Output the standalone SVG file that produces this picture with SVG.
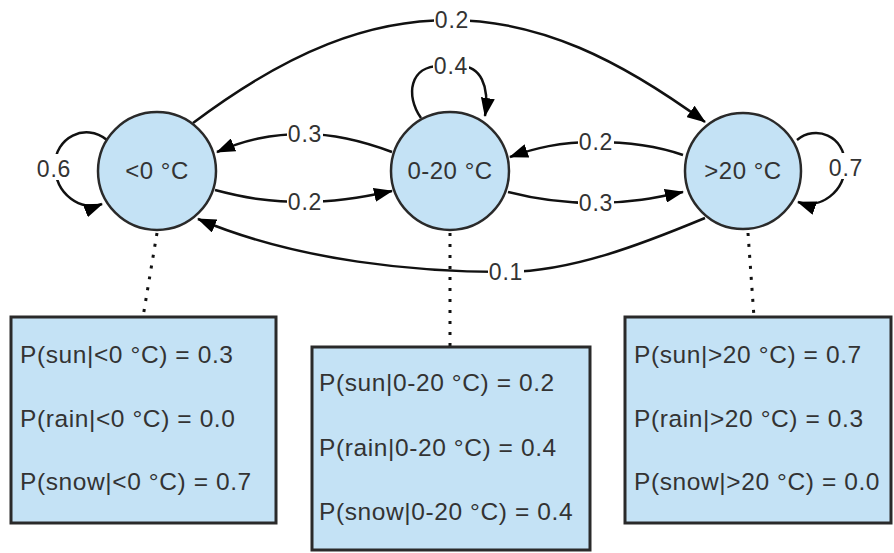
<svg xmlns="http://www.w3.org/2000/svg" width="894" height="553" viewBox="0 0 894 553">
<style>
.node circle{fill:#c4e2f5;stroke:#2a2a2a;stroke-width:2.5}
.box rect{fill:#c4e2f5;stroke:#2a2a2a;stroke-width:3}
.nt{font-family:"Liberation Sans",Arial,sans-serif;font-size:24px;fill:#333;text-anchor:middle;letter-spacing:0.5px}
.bt{font-family:"Liberation Sans",Arial,sans-serif;font-size:24.5px;fill:#333;letter-spacing:0.6px}
.edge{fill:none;stroke:#111;stroke-width:2.5}
.dot{fill:none;stroke:#111;stroke-width:3;stroke-dasharray:3 8}
.lb{fill:#fff}
.lbl{font-family:"Liberation Sans",Arial,sans-serif;font-size:23px;fill:#333;text-anchor:middle;letter-spacing:0.8px}
</style>
<defs>
<marker id="ah" markerUnits="userSpaceOnUse" markerWidth="19" markerHeight="14" refX="18" refY="7" orient="auto">
<path d="M0,0 L19,7 L0,14 z" fill="#000"/>
</marker>
</defs>
<rect width="894" height="553" fill="#fff"/>
<g id="connectors">
<path class="dot" d="M157,233 L143,317"/>
<path class="dot" d="M450,233 L450,347"/>
<path class="dot" d="M748,233 L754,317"/>
<path class="edge" marker-end="url(#ah)" d="M193,123 C290,50 370,20 450,20 C540,20 620,60 705,122"/>
<path class="edge" marker-end="url(#ah)" d="M392,152 C360,140 330,134 305,134 C270,134 245,140 217,152"/>
<path class="edge" marker-end="url(#ah)" d="M215,190 C245,198 270,202 305,202 C335,202 360,198 392,191"/>
<path class="edge" marker-end="url(#ah)" d="M683,155 C660,147 630,142 595,142 C560,142 535,148 510,157"/>
<path class="edge" marker-end="url(#ah)" d="M508,192 C535,199 560,203 595,203 C630,203 655,198 683,192"/>
<path class="edge" marker-end="url(#ah)" d="M705,218 C640,245 570,272 505,272 C420,272 300,262 198,219"/>
<path class="edge" marker-end="url(#ah)" d="M107,140 C85,122 55,138 55,165 C55,195 82,212 102,204"/>
<path class="edge" marker-end="url(#ah)" d="M421,118 C405,95 410,66 440,66 L460,66 C480,66 490,85 485,116"/>
<path class="edge" marker-end="url(#ah)" d="M797,140 C815,125 845,135 845,165 C845,192 820,210 798,202"/>
<rect class="lb" x="434" y="10" width="36" height="20"/><text class="lbl" x="452" y="28">0.2</text>
<rect class="lb" x="287" y="124" width="36" height="20"/><text class="lbl" x="305" y="142">0.3</text>
<rect class="lb" x="287" y="192" width="36" height="20"/><text class="lbl" x="305" y="210">0.2</text>
<rect class="lb" x="578" y="132" width="36" height="20"/><text class="lbl" x="596" y="150">0.2</text>
<rect class="lb" x="578" y="193" width="36" height="20"/><text class="lbl" x="596" y="211">0.3</text>
<rect class="lb" x="488" y="262" width="36" height="20"/><text class="lbl" x="506" y="280">0.1</text>
<rect class="lb" x="36" y="154" width="36" height="26"/><text class="lbl" x="54" y="177">0.6</text>
<rect class="lb" x="433" y="56" width="36" height="20"/><text class="lbl" x="451" y="74">0.4</text>
<rect class="lb" x="828" y="153" width="36" height="26"/><text class="lbl" x="846" y="176">0.7</text>
</g>
<g id="n1" class="node"><circle cx="157" cy="171" r="59"/><text class="nt" x="157" y="179">&lt;0 °C</text></g>
<g id="n2" class="node"><circle cx="450" cy="171" r="59"/><text class="nt" x="450" y="179">0-20 °C</text></g>
<g id="n3" class="node"><circle cx="743" cy="171" r="58"/><text class="nt" x="743" y="179">&gt;20 °C</text></g>
<g id="b1" class="box"><rect x="11" y="317" width="265" height="206"/>
<text class="bt" x="20" y="363">P(sun|&lt;0 °C) = 0.3</text>
<text class="bt" x="20" y="427">P(rain|&lt;0 °C) = 0.0</text>
<text class="bt" x="20" y="490">P(snow|&lt;0 °C) = 0.7</text></g>
<g id="b2" class="box"><rect x="312" y="347" width="278" height="203"/>
<text class="bt" x="319" y="391">P(sun|0-20 °C) = 0.2</text>
<text class="bt" x="319" y="456">P(rain|0-20 °C) = 0.4</text>
<text class="bt" x="319" y="520">P(snow|0-20 °C) = 0.4</text></g>
<g id="b3" class="box"><rect x="625" y="317" width="266" height="206"/>
<text class="bt" x="634" y="363">P(sun|&gt;20 °C) = 0.7</text>
<text class="bt" x="634" y="427">P(rain|&gt;20 °C) = 0.3</text>
<text class="bt" x="634" y="490">P(snow|&gt;20 °C) = 0.0</text></g>
</svg>
